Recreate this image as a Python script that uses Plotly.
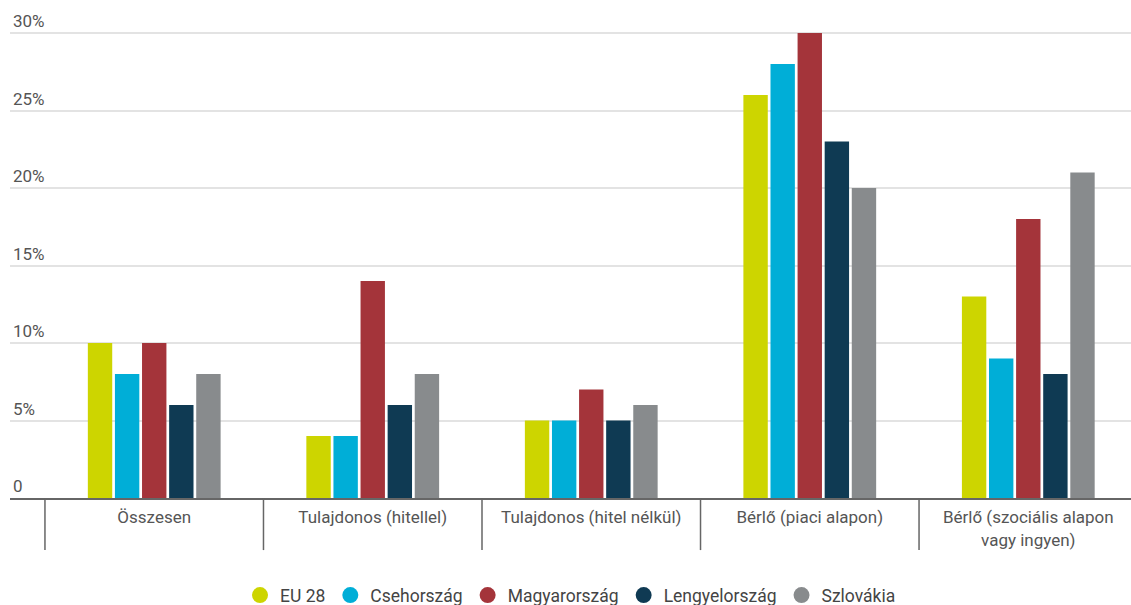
import plotly.graph_objects as go

categories = [
    "Összesen",
    "Tulajdonos (hitellel)",
    "Tulajdonos (hitel nélkül)",
    "Bérlő (piaci alapon)",
    "Bérlő (szociális alapon<br>vagy ingyen)",
]
series_names = ["EU 28", "Csehország", "Magyarország", "Lengyelország", "Szlovákia"]
eu28 = [10, 4, 5, 26, 13]
csehorszag = [8, 4, 5, 28, 9]
magyarorszag = [10, 14, 7, 30, 18]
lengyelorszag = [6, 6, 5, 23, 8]
szlovakia = [8, 8, 6, 20, 21]
series_values = [eu28, csehorszag, magyarorszag, lengyelorszag, szlovakia]
colors = ["#cdd500", "#00aed7", "#a4343a", "#0f3a53", "#888b8d"]

y_tickvals = [0, 5, 10, 15, 20, 25, 30]
y_ticktext = ["0", "5%", "10%", "15%", "20%", "25%", "30%"]

FONT = "Roboto, 'Open Sans', sans-serif"
TEXT = "#555555"

x_idx = list(range(len(categories)))

fig = go.Figure()
for name, vals, col in zip(series_names, series_values, colors):
    fig.add_trace(go.Bar(
        x=x_idx, y=vals, name=name, marker=dict(color=col, line=dict(width=0)),
        showlegend=False, hoverinfo="y",
    ))
    # round legend markers
    fig.add_trace(go.Scatter(
        x=[None], y=[None], mode="markers", name=name,
        marker=dict(symbol="circle", size=20, color=col),
    ))

# vertical separators between categories
for b in [-0.5, 0.5, 1.5, 2.5, 3.5]:
    fig.add_shape(type="line", xref="x", yref="paper", x0=b, x1=b, y0=0, y1=-0.105,
                  line=dict(color="#666666", width=1.5))

fig.update_layout(
    width=1131, height=605,
    margin=dict(l=10, r=0, t=2, b=107, autoexpand=False),
    paper_bgcolor="white", plot_bgcolor="white",
    barmode="group", bargap=0.38, bargroupgap=0.1,
    font=dict(family=FONT, size=17, color=TEXT),
    legend=dict(orientation="h", x=0.5, xanchor="center", y=-0.196, yanchor="middle",
                font=dict(size=17.5, color="#444444"), itemwidth=30, traceorder="normal"),
    xaxis=dict(
        range=[-0.66, 4.47], tickvals=x_idx, ticktext=categories, ticks="",
        showgrid=False, zeroline=False, showline=True, linecolor="#666666", linewidth=2,
        tickfont=dict(size=17, color=TEXT), ticklabelstandoff=3, fixedrange=True,
    ),
    yaxis=dict(
        range=[0, 32], tickvals=y_tickvals, ticktext=y_ticktext,
        ticklabelposition="inside top", showgrid=True, gridcolor="#e3e3e3", gridwidth=2,
        zeroline=False, showline=False, tickfont=dict(size=17, color=TEXT), fixedrange=True,
    ),
)

fig.write_html("out.html")
